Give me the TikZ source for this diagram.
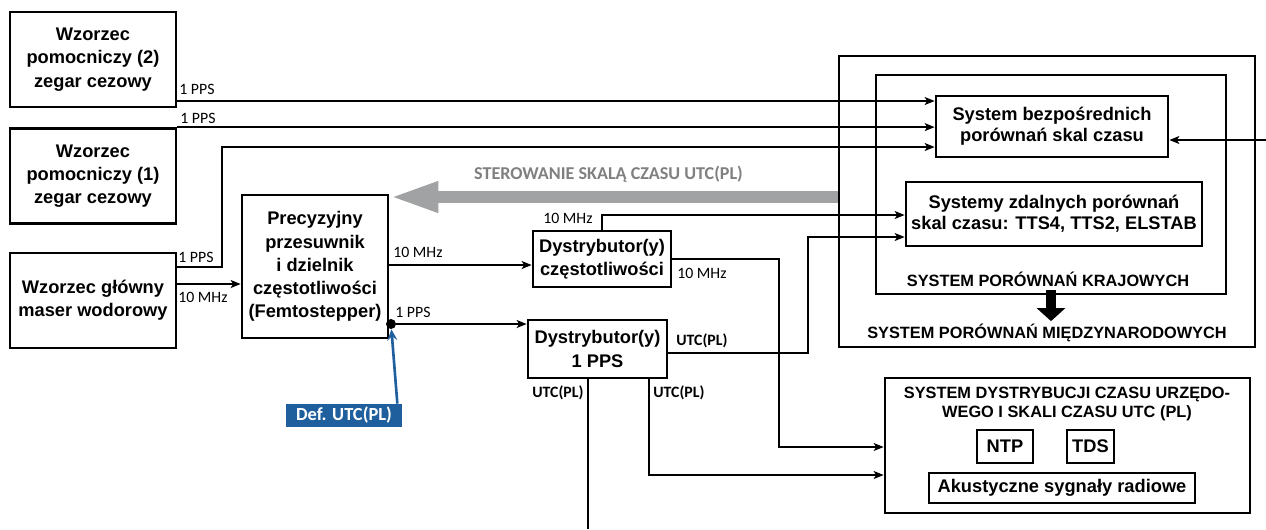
\documentclass[tikz,border=0pt]{standalone}
\usepackage{fontspec}
\setmainfont{Liberation Sans}
\newfontfamily\calfont{Carlito}
\usetikzlibrary{arrows.meta}

\definecolor{defblue}{RGB}{31,95,158}
\definecolor{ctrlgray}{RGB}{160,162,163}
\definecolor{ctrltext}{RGB}{128,128,128}

\tikzset{
  box/.style={draw, line width=1.6pt, inner sep=0pt, align=center,
    font=\bfseries\fontsize{10.4}{13.2}\selectfont},
  sysbox/.style={box, font=\bfseries\fontsize{10.4}{12}\selectfont},
  sig/.style={line width=0.8pt, -{Stealth[length=2mm,width=1.6mm,inset=0.5mm]}},
  wire/.style={line width=0.8pt},
  lbl/.style={inner sep=0pt, anchor=west, font=\calfont\fontsize{9}{10}\selectfont},
  lblb/.style={lbl, font=\calfont\bfseries\fontsize{9}{10}\selectfont},
  title/.style={inner sep=0pt, align=center, font=\bfseries\fontsize{9.3}{10.4}\selectfont},
}

\begin{document}
\begin{tikzpicture}[x=0.02cm, y=-0.02cm]
\useasboundingbox (0,0) rectangle (1266,529);

% wzorce i przesuwnik
\node[box, minimum width=3.32cm, minimum height=1.9cm] (w2) at (93,59.5) {Wzorzec\\pomocniczy (2)\\zegar cezowy};
\node[box, minimum width=3.32cm, minimum height=1.9cm] (w1) at (93,176) {Wzorzec\\pomocniczy (1)\\zegar cezowy};
\node[box, minimum width=3.32cm, minimum height=1.9cm] (wg) at (93,300.5) {Wzorzec główny\\maser wodorowy};
\node[box, minimum width=2.92cm, minimum height=2.86cm] (femto) at (315,266.5) {Precyzyjny\\przesuwnik\\i dzielnik\\częstotliwości\\(Femtostepper)};
\node[box, minimum width=2.76cm, minimum height=1.12cm] (dystf) at (602,259) {Dystrybutor(y)\\częstotliwości};
\node[box, minimum width=2.78cm, minimum height=1.16cm] (dystp) at (597.5,349) {Dystrybutor(y)\\1 PPS};

% systemy porownan
\node[box, minimum width=8.32cm, minimum height=5.82cm] (intl) at (1047,201.5) {};
\node[box, minimum width=7.0cm, minimum height=4.38cm] (kraj) at (1051,184.5) {};
\node[sysbox, minimum width=4.64cm, minimum height=1.22cm] (bezp) at (1052,126.5) {System bezpośrednich\\porównań skal czasu};
\node[sysbox, minimum width=5.92cm, minimum height=1.28cm] (zdal) at (1054,214) {Systemy zdalnych porównań\\skal czasu: TTS4, TTS2, ELSTAB};
\node[title] (krajt) at (1048,279) {SYSTEM PORÓWNAŃ KRAJOWYCH};
\node[title] (intlt) at (1047,333) {SYSTEM PORÓWNAŃ MIĘDZYNARODOWYCH};
\draw[line width=0.2cm, -{Triangle[length=0.26cm,width=0.56cm]}] ([yshift=3pt]kraj.south) -- ++(0,31);

% dystrybucja czasu
\node[box, minimum width=7.3cm, minimum height=2.7cm] (dist) at (1067.5,445.5) {};
\node[title] (distt) at (1067,404) {SYSTEM DYSTRYBUCJI CZASU URZĘDO-\\WEGO I SKALI CZASU UTC (PL)};
\node[box, minimum width=1.12cm, minimum height=0.66cm] (ntp) at (1005,446.5) {NTP};
\node[box, minimum width=0.94cm, minimum height=0.66cm] (tds) at (1090.5,446.5) {TDS};
\node[box, minimum width=5.32cm, minimum height=0.6cm] (aku) at (1062,488) {Akustyczne sygnały radiowe};

% sterowanie
\draw[ctrlgray, line width=0.24cm, -{Triangle[length=0.98cm,width=0.56cm]}] (intl.west |- 0,197) -- (femto.east |- 0,197);
\node[text=ctrltext, inner sep=0pt, font=\calfont\bfseries\fontsize{10.3}{12}\selectfont] (ctrl) at (608.5,174) {STEROWANIE SKALĄ CZASU UTC(PL)};

% def. UTC(PL)
\node[fill=defblue, text=white, minimum width=2.32cm, minimum height=0.46cm, inner sep=0pt,
  font=\calfont\bfseries\fontsize{10.5}{12}\selectfont] (def) at (344,415.5) {Def. UTC(PL)};
\node[circle, fill, inner sep=0pt, minimum size=0.2cm] (dot) at (391,324) {};
\draw[defblue, line width=1.5pt, -{Stealth[length=2.2mm,width=2mm,inset=0.8mm]}] ([xshift=-0.1cm]def.north east) -- (dot);

% polaczenia
\draw[sig] (w2.east |- 0,101) -- (bezp.west |- 0,101);
\draw[sig] (w1.north east) -- (bezp.west |- w1.north east);
\draw[sig] (wg.east |- 0,267) -- (222,267) |- (bezp.west |- 0,147);
\draw[sig] (wg.east |- 0,284) -- (femto.west |- 0,284);
\draw[sig] (femto.east |- 0,265) -- (dystf.west |- 0,265);
\draw[sig] (dot) -- (dystp.west |- dot);
\draw[sig] (dystf.north) |- (zdal.west |- 0,215);
\draw[sig] (dystf.east) -- (779,259) |- (dist.west |- 0,447);
\draw[sig] (dystp.east |- 0,353) -- (808,353) |- (zdal.west |- 0,237);
\draw[wire] (588,0 |- dystp.south) -- (588,529);
\draw[sig] (649,0 |- dystp.south) |- (dist.west |- 0,475);
\coordinate (rin) at (1266,140);
\draw[sig] (rin) -- (bezp.east |- rin);

% etykiety
\node[lbl] at (179,89) {1 PPS};
\node[lbl] at (180,118) {1 PPS};
\node[lbl] at (178,257) {1 PPS};
\node[lbl] at (178,297) {10 MHz};
\node[lbl] at (393,252) {10 MHz};
\node[lbl] at (395,312) {1 PPS};
\node[lbl] at (543,218) {10 MHz};
\node[lbl] at (677,273) {10 MHz};
\node[lblb] at (676,341) {UTC(PL)};
\node[lblb] at (532,393) {UTC(PL)};
\node[lblb] at (653,393) {UTC(PL)};
\end{tikzpicture}
\end{document}
